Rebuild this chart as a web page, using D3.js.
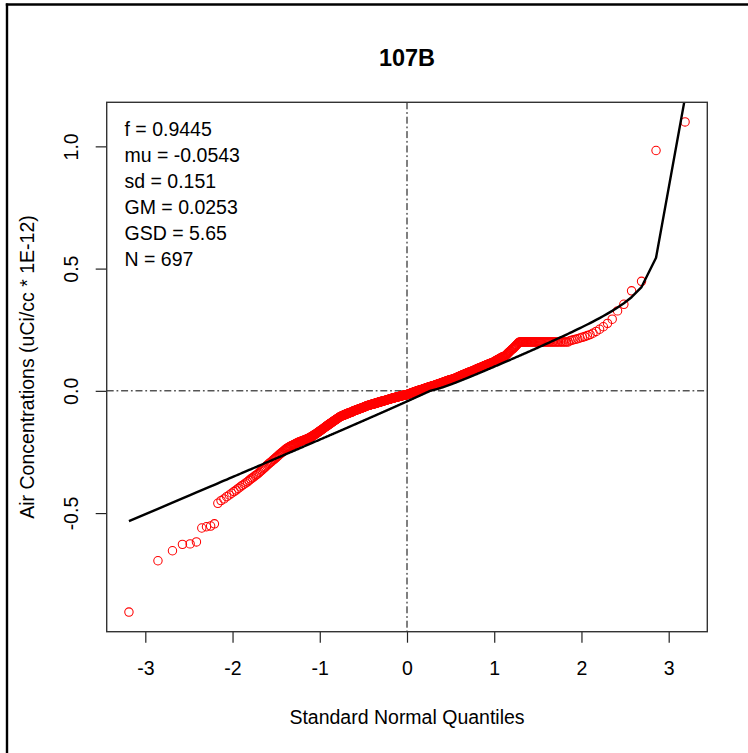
<!DOCTYPE html>
<html>
<head>
<meta charset="utf-8">
<script src="https://cdn.jsdelivr.net/npm/d3@7"></script>
<style>
  body { margin: 0; background: #fff; }
  svg { display: block; }
  text { font-family: "Liberation Sans", Arial, Helvetica, sans-serif; fill: #000; }
</style>
</head>
<body>
<svg id="chart" width="748" height="753"></svg>
<script>
// ---- chart text ----
const chartTitle = "107B";
const xTitle = "Standard Normal Quantiles";
const yTitle = "Air Concentrations (uCi/cc * 1E-12)";

// ---- axis ticks ----
const xTickValues = [-3, -2, -1, 0, 1, 2, 3];
const yTickValues = [-0.5, 0.0, 0.5, 1.0];

// ---- fitted mixture parameters (normal part + lognormal part) ----
const statNames = ["f", "mu", "sd", "GM", "GSD", "N"];
const statValues = [0.9445, -0.0543, 0.151, 0.0253, 5.65, 697];

// ---- sorted sample concentrations (uCi/cc * 1E-12) ----
const sampleValues = [
  -0.905,-0.695,-0.654,-0.628,-0.626,-0.618,-0.561,-0.556,-0.553,-0.544,-0.460,-0.449,-0.442,-0.433,-0.426,-0.419,-0.412,-0.406,-0.399,-0.393,-0.387,-0.382,
  -0.377,-0.372,-0.366,-0.361,-0.356,-0.352,-0.347,-0.343,-0.339,-0.334,-0.329,-0.324,-0.319,-0.315,-0.311,-0.306,-0.302,-0.298,-0.294,-0.291,-0.287,-0.283,
  -0.280,-0.276,-0.273,-0.269,-0.266,-0.262,-0.259,-0.256,-0.253,-0.250,-0.247,-0.244,-0.241,-0.238,-0.236,
  -0.234,-0.232,-0.230,-0.228,-0.227,-0.225,-0.223,-0.222,-0.220,-0.219,-0.217,-0.216,-0.214,-0.213,-0.212,-0.210,-0.209,-0.208,
  -0.207,-0.206,-0.205,-0.204,-0.203,-0.202,-0.201,-0.200,-0.199,-0.198,-0.197,-0.196,-0.195,-0.194,-0.192,-0.191,-0.190,-0.188,-0.187,-0.186,-0.184,
  -0.183,-0.181,-0.180,-0.178,-0.177,-0.175,-0.174,-0.172,-0.171,-0.169,-0.168,-0.166,-0.165,
  -0.163,-0.162,-0.160,-0.159,-0.157,-0.156,-0.154,-0.153,-0.151,-0.150,-0.148,-0.147,-0.145,
  -0.144,-0.142,-0.141,-0.140,-0.138,-0.137,-0.136,-0.134,-0.133,-0.132,-0.130,-0.129,-0.128,-0.126,-0.125,
  -0.124,-0.123,-0.121,-0.120,-0.119,-0.118,-0.117,-0.115,-0.114,-0.113,-0.112,-0.110,-0.109,-0.108,-0.107,
  -0.106,-0.105,-0.104,-0.104,-0.103,-0.102,-0.101,-0.101,-0.100,-0.099,-0.098,-0.098,-0.097,-0.096,-0.096,-0.095,-0.094,
  -0.094,-0.093,-0.092,-0.092,-0.091,-0.090,-0.090,-0.089,-0.089,-0.088,-0.087,-0.087,-0.086,-0.086,-0.085,-0.085,
  -0.082,-0.082,-0.081,-0.081,-0.080,-0.080,-0.079,-0.079,-0.078,-0.078,-0.077,-0.077,-0.076,-0.075,-0.075,-0.074,-0.074,-0.073,-0.073,
  -0.072,-0.072,-0.071,-0.071,-0.070,-0.069,-0.069,-0.068,-0.068,-0.067,-0.067,-0.066,-0.066,-0.065,-0.064,-0.064,-0.063,-0.062,
  -0.062,-0.061,-0.061,-0.060,-0.060,-0.060,-0.059,-0.059,-0.058,-0.058,-0.058,-0.057,-0.057,-0.056,-0.056,-0.055,-0.055,-0.055,-0.054,-0.054,
  -0.053,-0.053,-0.053,-0.052,-0.052,-0.051,-0.051,-0.050,-0.050,-0.050,-0.049,-0.049,-0.048,-0.048,-0.048,-0.047,-0.047,-0.046,-0.046,
  -0.046,-0.045,-0.045,-0.044,-0.044,-0.044,-0.043,-0.043,-0.042,-0.042,-0.042,-0.041,-0.041,-0.040,-0.040,-0.040,-0.039,-0.039,-0.038,-0.038,
  -0.038,-0.037,-0.037,-0.036,-0.036,-0.036,-0.035,-0.035,-0.034,-0.034,-0.034,-0.033,-0.033,-0.032,-0.032,-0.032,-0.031,-0.031,-0.030,-0.030,-0.030,
  -0.029,-0.029,-0.029,-0.028,-0.028,-0.028,-0.027,-0.027,-0.027,-0.026,-0.026,-0.026,-0.025,-0.025,-0.025,-0.024,-0.024,-0.024,-0.023,-0.023,-0.023,-0.022,-0.022,
  -0.022,-0.021,-0.021,-0.021,-0.020,-0.020,-0.020,-0.019,-0.019,-0.019,-0.018,-0.018,-0.018,-0.017,-0.017,-0.017,-0.017,-0.016,-0.016,-0.016,-0.016,-0.016,
  -0.015,-0.015,-0.014,-0.014,-0.013,-0.013,-0.012,-0.012,-0.011,-0.011,
  -0.011,-0.010,-0.010,-0.009,-0.009,-0.008,-0.008,-0.007,-0.007,-0.006,
  -0.006,-0.006,-0.005,-0.005,-0.004,-0.004,-0.003,-0.003,-0.002,-0.002,
  -0.002,-0.001,-0.001,0.000,0.000,0.001,0.001,0.002,0.002,0.002,
  0.003,0.003,0.004,0.004,0.005,0.005,0.006,0.006,0.007,0.007,
  0.007,0.008,0.008,0.009,0.009,0.010,0.010,0.011,0.011,0.012,
  0.012,0.012,0.013,0.013,0.014,0.014,0.015,0.015,0.016,0.016,
  0.016,0.017,0.017,0.018,0.018,0.018,0.019,0.019,0.019,0.020,
  0.020,
  0.020,0.021,0.021,0.022,0.022,0.023,0.023,0.024,0.024,0.025,
  0.025,0.026,0.026,0.027,0.027,0.027,0.028,0.028,0.029,0.029,
  0.030,0.030,0.031,0.031,0.032,0.032,0.033,0.033,0.034,0.034,
  0.035,0.035,0.036,0.036,0.037,0.037,0.038,0.038,0.039,0.039,
  0.040,0.040,0.041,0.041,0.042,0.042,0.043,0.043,0.044,0.044,
  0.045,0.045,0.045,0.046,0.046,0.046,0.047,0.047,
  0.048,0.048,0.049,0.050,0.050,0.051,0.052,0.052,0.053,0.054,
  0.054,0.055,0.056,0.056,0.057,0.058,0.058,0.059,0.060,0.060,
  0.061,0.062,0.062,0.063,0.064,0.064,0.065,0.066,0.066,0.067,
  0.068,0.068,0.069,0.070,0.070,0.071,0.072,0.072,0.073,0.074,
  0.074,0.075,0.076,0.076,0.077,0.078,0.078,0.079,0.079,0.080,
  0.080,0.081,
  0.082,0.083,0.083,0.084,0.085,0.086,0.087,0.087,0.088,0.089,
  0.090,0.091,0.091,0.092,0.093,0.094,0.095,0.095,0.096,0.097,
  0.098,0.099,0.099,0.100,0.101,0.102,0.103,0.103,0.104,0.105,
  0.106,0.107,0.107,0.108,0.109,0.110,0.111,0.111,0.112,0.113,
  0.114,0.115,0.115,0.116,
  0.117,0.118,0.119,0.121,0.122,0.123,0.124,0.126,0.127,0.128,
  0.129,0.130,0.132,0.133,0.134,0.135,0.137,0.138,0.139,0.140,
  0.141,0.142,0.144,0.145,
  0.148,0.150,0.153,0.155,0.158,0.160,0.163,0.165,0.168,0.170,
  0.172,0.175,0.177,0.180,0.183,0.186,0.189,0.192,0.195,0.198,
  0.200,0.200,0.200,0.200,0.200,0.200,0.200,0.200,0.200,0.200,
  0.200,0.200,0.200,0.200,0.200,0.200,0.200,0.200,0.200,0.200,
  0.200,0.200,0.200,0.200,0.200,0.200,0.200,0.200,0.200,0.200,
  0.200,0.200,0.200,0.200,0.200,0.200,0.200,0.200,0.200,0.200,
  0.200,0.200,0.200,0.200,0.200,0.200,0.200,
  0.205,0.207,0.209,0.211,0.213,0.216,0.219,0.222,0.226,0.230,
  0.236,0.243,0.252,0.262,0.276,0.293,0.327,0.354,0.409,0.448,
  0.983,1.100
];

// ---- normal distribution helpers ----
function erfc(x) {
  const z = Math.abs(x);
  const t = 1 / (1 + 0.5 * z);
  const r = t * Math.exp(-z * z - 1.26551223 + t * (1.00002368 + t * (0.37409196 + t * (0.09678418 +
    t * (-0.18628806 + t * (0.27886807 + t * (-1.13520398 + t * (1.48851587 +
    t * (-0.82215223 + t * 0.17087277)))))))));
  return x >= 0 ? r : 2 - r;
}
function pnorm(z) { return 0.5 * erfc(-z / Math.SQRT2); }

// Acklam's rational approximation of the normal quantile
function qnorm(p) {
  const a = [-3.969683028665376e+01, 2.209460984245205e+02, -2.759285104469687e+02,
             1.383577518672690e+02, -3.066479806614716e+01, 2.506628277459239e+00];
  const b = [-5.447609879822406e+01, 1.615858368580409e+02, -1.556989798598866e+02,
             6.680131188771972e+01, -1.328068155288572e+01];
  const c = [-7.784894002430293e-03, -3.223964580411365e-01, -2.400758277161838e+00,
             -2.549732539343734e+00, 4.374664141464968e+00, 2.938163982698783e+00];
  const d = [7.784695709041462e-03, 3.224671290700398e-01, 2.445134137142996e+00,
             3.754408661907416e+00];
  const pLow = 0.02425, pHigh = 1 - pLow;
  let q, r;
  if (p < pLow) {
    q = Math.sqrt(-2 * Math.log(p));
    return (((((c[0]*q+c[1])*q+c[2])*q+c[3])*q+c[4])*q+c[5]) / ((((d[0]*q+d[1])*q+d[2])*q+d[3])*q+1);
  } else if (p <= pHigh) {
    q = p - 0.5; r = q * q;
    return (((((a[0]*r+a[1])*r+a[2])*r+a[3])*r+a[4])*r+a[5])*q / (((((b[0]*r+b[1])*r+b[2])*r+b[3])*r+b[4])*r+1);
  } else {
    q = Math.sqrt(-2 * Math.log(1 - p));
    return -(((((c[0]*q+c[1])*q+c[2])*q+c[3])*q+c[4])*q+c[5]) / ((((d[0]*q+d[1])*q+d[2])*q+d[3])*q+1);
  }
}

// Mixture model: f * Normal(mu, sd) + (1 - f) * LogNormal(GM, GSD)
const [fFrac, mu, sd, gm, gsd] = statValues;
function mixCdf(v) {
  const normPart = fFrac * pnorm((v - mu) / sd);
  const logPart = v > 0 ? (1 - fFrac) * pnorm((Math.log(v) - Math.log(gm)) / Math.log(gsd)) : 0;
  return normPart + logPart;
}
function mixQuantile(p) {
  let lo = -5, hi = 100;
  for (let k = 0; k < 200; k++) {
    const mid = (lo + hi) / 2;
    if (mixCdf(mid) < p) lo = mid; else hi = mid;
  }
  return (lo + hi) / 2;
}

// ---- build plotted pairs ----
const n = sampleValues.length;
const points = sampleValues.map((v, i) => {
  const p = (i + 0.5) / n;           // plotting positions (i - 1/2) / n
  return { q: qnorm(p), v: v, p: p };
});
const fitLine = points.map(d => [d.q, mixQuantile(d.p)]);

// ---- layout ----
const svg = d3.select("#chart");
const W = 748, H = 753;
const plot = { left: 106.7, right: 707.3, top: 102.3, bottom: 631.7 };
const cx = (plot.left + plot.right) / 2, cy = (plot.top + plot.bottom) / 2;

// axis limits padded 4% like R
function padded(ext) { const r = ext[1] - ext[0]; return [ext[0] - 0.04 * r, ext[1] + 0.04 * r]; }
const x = d3.scaleLinear().domain(padded(d3.extent(points, d => d.q))).range([plot.left, plot.right]);
const y = d3.scaleLinear().domain(padded(d3.extent(points, d => d.v))).range([plot.bottom, plot.top]);

// outer frame of the figure
svg.append("line").attr("x1", 7).attr("x2", 7).attr("y1", 3.5).attr("y2", H)
  .attr("stroke", "#000").attr("stroke-width", 2.4);
svg.append("line").attr("x1", 5.8).attr("x2", W).attr("y1", 4.5).attr("y2", 4.5)
  .attr("stroke", "#000").attr("stroke-width", 2.4);

svg.append("defs").append("clipPath").attr("id", "plotClip")
  .append("rect").attr("x", plot.left).attr("y", plot.top)
  .attr("width", plot.right - plot.left).attr("height", plot.bottom - plot.top);

// title
svg.append("text").attr("x", cx).attr("y", 66).attr("text-anchor", "middle")
  .style("font-size", "23.5px").style("font-weight", "bold").text(chartTitle);

// x axis
const xAxis = svg.append("g").attr("transform", `translate(0,${plot.bottom})`)
  .call(d3.axisBottom(x).tickValues(xTickValues).tickSize(11).tickFormat(d => String(d)));
xAxis.select(".domain").remove();
xAxis.selectAll(".tick line").attr("stroke", "#222").attr("stroke-width", 1.2);
xAxis.selectAll(".tick text").attr("y", 43.5).attr("dy", null)
  .style("font-size", "19.5px").attr("fill", "#000");

// y axis
const yAxis = svg.append("g").attr("transform", `translate(${plot.left},0)`)
  .call(d3.axisLeft(y).tickValues(yTickValues).tickSize(11).tickFormat(d => d.toFixed(1)));
yAxis.select(".domain").remove();
yAxis.selectAll(".tick line").attr("stroke", "#222").attr("stroke-width", 1.2);
yAxis.selectAll(".tick text").attr("x", 0).attr("y", -29).attr("dy", null)
  .attr("transform", "rotate(-90)").attr("text-anchor", "middle")
  .style("font-size", "19.5px").attr("fill", "#000");

// axis titles
svg.append("text").attr("x", cx).attr("y", 724).attr("text-anchor", "middle")
  .style("font-size", "19.5px").text(xTitle);
svg.append("text").attr("transform", `translate(34,${cy}) rotate(-90)`).attr("text-anchor", "middle")
  .style("font-size", "19.5px").text(yTitle);

// reference lines through the origin
const dash = "7,2.8,1.8,2.8";
svg.append("line").attr("x1", x(0)).attr("x2", x(0)).attr("y1", plot.top).attr("y2", plot.bottom)
  .attr("stroke", "#000").attr("stroke-width", 1).attr("stroke-dasharray", dash);
svg.append("line").attr("x1", plot.left).attr("x2", plot.right).attr("y1", y(0)).attr("y2", y(0))
  .attr("stroke", "#000").attr("stroke-width", 1).attr("stroke-dasharray", dash);

// sample points
const body = svg.append("g").attr("clip-path", "url(#plotClip)");
body.selectAll("circle.pt").data(points).join("circle").attr("class", "pt")
  .attr("cx", d => x(d.q)).attr("cy", d => y(d.v)).attr("r", 4.2)
  .attr("fill", "none").attr("stroke", "#ff0000").attr("stroke-width", 1.05);

// fitted mixture quantile line
body.append("path").datum(fitLine)
  .attr("d", d3.line().x(d => x(d[0])).y(d => y(d[1])))
  .attr("fill", "none").attr("stroke", "#000").attr("stroke-width", 2.4)
  .attr("stroke-linejoin", "round");

// statistics block
svg.append("g").selectAll("text").data(statNames).join("text")
  .attr("x", 124.5).attr("y", (d, i) => 135.7 + i * 26.1)
  .style("font-size", "19.5px")
  .text((d, i) => `${d} = ${String(statValues[i])}`);

// plot frame
svg.append("rect").attr("x", plot.left).attr("y", plot.top)
  .attr("width", plot.right - plot.left).attr("height", plot.bottom - plot.top)
  .attr("fill", "none").attr("stroke", "#333").attr("stroke-width", 1.4);
</script>
</body>
</html>
